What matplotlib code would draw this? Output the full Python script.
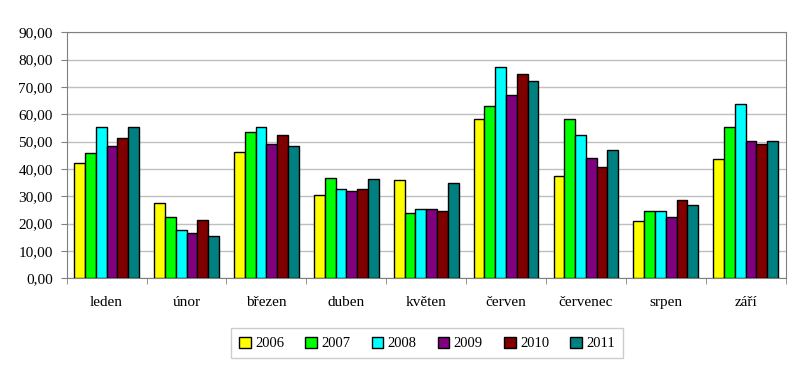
import matplotlib
matplotlib.use("Agg")
import matplotlib.pyplot as plt
import numpy as np

categories = ["leden", "únor", "březen", "duben", "květen", "červen", "červenec", "srpen", "září"]
years = ["2006", "2007", "2008", "2009", "2010", "2011"]
v2006 = [42.3, 27.4, 46.3, 30.6, 35.9, 58.4, 37.3, 21.0, 43.5]
v2007 = [45.9, 22.3, 53.4, 36.8, 23.8, 62.9, 58.4, 24.5, 55.2]
v2008 = [55.4, 17.8, 55.4, 32.7, 25.5, 77.3, 52.6, 24.5, 63.8]
v2009 = [48.5, 16.6, 49.0, 31.8, 25.5, 67.0, 44.1, 22.3, 50.2]
v2010 = [51.3, 21.5, 52.6, 32.7, 24.6, 74.8, 40.9, 28.7, 49.0]
v2011 = [55.4, 15.6, 48.5, 36.2, 35.0, 72.0, 46.8, 26.8, 50.2]
series = [v2006, v2007, v2008, v2009, v2010, v2011]
colors = ["#FFFF00", "#00FF00", "#00FFFF", "#800080", "#800000", "#008080"]

plt.rcParams['font.family'] = ['Liberation Serif', 'DejaVu Serif']

fig = plt.figure(figsize=(8, 3.67), dpi=100)
ax = fig.add_axes([0.0834, 0.2417, 0.8986, 0.6703])

x = np.arange(len(categories))
w = 0.135
for i, (vals, c, lab) in enumerate(zip(series, colors, years)):
    ax.bar(x + (i - 2.5) * w, vals, width=w, color=c, edgecolor="black",
           linewidth=1.0, label=lab, zorder=3)

ax.set_xlim(-0.5, len(categories) - 0.5)
ax.set_ylim(0, 90)
ax.set_yticks(np.arange(0, 91, 10))
ax.set_yticklabels([f"{v:.2f}".replace(".", ",") for v in np.arange(0, 91, 10)], fontsize=11)
ax.yaxis.grid(True, color="#C0C0C0", linewidth=1.0, zorder=0)
ax.set_axisbelow(True)

ax.set_xticks(x)
ax.set_xticklabels(categories, fontsize=11)
ax.tick_params(axis="x", length=0, pad=13)
ax.set_xticks(np.arange(-0.5, len(categories) + 0.5, 1), minor=True)
ax.tick_params(axis="x", which="minor", length=4, color="#808080")
ax.tick_params(axis="y", length=4, color="#808080", pad=6)

for s in ["top", "right", "left", "bottom"]:
    ax.spines[s].set_color("#808080")

leg = fig.legend(loc="center", bbox_to_anchor=(0.534, 0.0645), ncol=6, fontsize=10.5,
                 frameon=True, fancybox=False, edgecolor="#C0C0C0",
                 handlelength=0.8, handleheight=0.8, handletextpad=0.3,
                 columnspacing=1.45, borderpad=0.55)
leg.get_frame().set_linewidth(1.0)

fig.savefig("out.png", dpi=100, facecolor="white")
